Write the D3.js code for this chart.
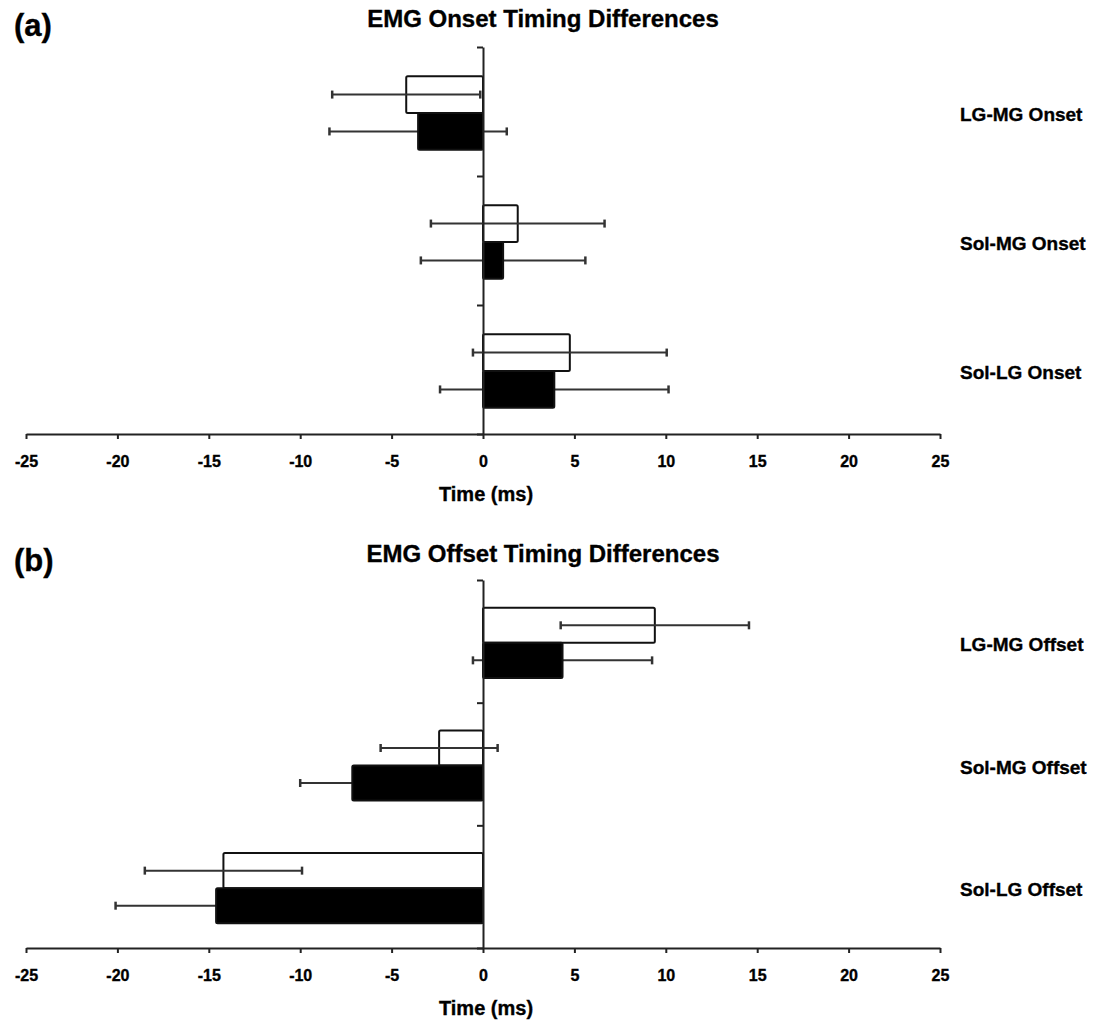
<!DOCTYPE html>
<html>
<head>
<meta charset="utf-8">
<script src="https://cdn.jsdelivr.net/npm/d3@7"></script>
<style>
  body { margin: 0; background: #fff; }
  text { font-family: "Liberation Sans", Arial, sans-serif; font-weight: bold; fill: #000; stroke: #000; stroke-width: 0.35; }
</style>
</head>
<body>
<svg></svg>
<script>
    // data (ms)
    onsetCats = ["LG-MG Onset", "Sol-MG Onset", "Sol-LG Onset"];
    onsetWhite = [-4.2, 1.9, 4.75];
    onsetWhiteSD = [4.05, 4.75, 5.3];
    onsetBlack = [-3.55, 1.1, 3.9];
    onsetBlackSD = [4.85, 4.5, 6.25];

    offsetCats = ["LG-MG Offset", "Sol-MG Offset", "Sol-LG Offset"];
    offsetWhite = [9.4, -2.4, -14.2];
    offsetWhiteSD = [5.15, 3.2, 4.3];
    offsetBlack = [4.35, -7.15, -14.6];
    offsetBlackSD = [4.9, 2.85, 5.5];

    xTicks = [-25, -20, -15, -10, -5, 0, 5, 10, 15, 20, 25];
    series = ["white", "black"];

    svg = d3.select("svg").attr("width", 1101).attr("height", 1021);

    function drawPanel(letter, title, cats, white, whiteSD, black, blackSD, top, bottom, titleY) {
        xs = d3.scaleLinear().domain([-25, 25]).range([26, 940]);
        ys = d3.scaleBand().domain(cats).range([top, bottom]);
        inner = d3.scaleBand().domain(series).range([0, ys.bandwidth()]).paddingOuter(0.75);
        yl = d3.scaleLinear().domain([0, cats.length]).range([top, bottom]);

        rows = [];
        cats.forEach(function(c, i) {
            rows.push({cat: c, s: "white", v: white[i], sd: whiteSD[i]});
            rows.push({cat: c, s: "black", v: black[i], sd: blackSD[i]});
        });

        g = svg.append("g");

        //panel letter and title
        g.append("text").attr("x", 14).attr("y", titleY + 9)
            .attr("font-size", 31).text(letter);
        g.append("text").attr("x", 543).attr("y", titleY)
            .attr("font-size", 24).attr("text-anchor", "middle").text(title);

        function bars(sel) {
            sel.attr("x", function(d) { return xs(Math.min(0, d.v)); })
                .attr("y", function(d) { return ys(d.cat) + inner(d.s) + 1.5; })
                .attr("width", function(d) { return Math.abs(xs(d.v) - xs(0)); })
                .attr("height", inner.bandwidth())
                .attr("rx", 1.5)
                .attr("fill", function(d) { return d.s == "white" ? "#fff" : "#000"; })
                .attr("stroke", "#111")
                .attr("stroke-width", 2);
        }

        //white bars first, then error bars, then black bars on top
        g.selectAll("rect.w").data(rows.filter(function(d) { return d.s == "white"; }))
            .enter().append("rect").attr("class", "w").call(bars);

        eb = g.selectAll("g.err").data(rows).enter().append("g").attr("class", "err")
            .attr("transform", function(d) {
                return "translate(0," + (ys(d.cat) + inner(d.s) + 1.5 + inner.bandwidth() / 2) + ")";
            });
        eb.append("line")
            .attr("x1", function(d) { return xs(d.v - d.sd); })
            .attr("x2", function(d) { return xs(d.v + d.sd); })
            .attr("stroke", "#333").attr("stroke-width", 2);
        eb.append("line")
            .attr("x1", function(d) { return xs(d.v - d.sd); })
            .attr("x2", function(d) { return xs(d.v - d.sd); })
            .attr("y1", -4).attr("y2", 4)
            .attr("stroke", "#333").attr("stroke-width", 2.5);
        eb.append("line")
            .attr("x1", function(d) { return xs(d.v + d.sd); })
            .attr("x2", function(d) { return xs(d.v + d.sd); })
            .attr("y1", -4).attr("y2", 4)
            .attr("stroke", "#333").attr("stroke-width", 2.5);

        g.selectAll("rect.b").data(rows.filter(function(d) { return d.s == "black"; }))
            .enter().append("rect").attr("class", "b").call(bars);

        //draw the y axis at zero
        ya = g.append("g")
            .attr("transform", "translate(" + xs(0) + ",0)")
            .call(d3.axisLeft(yl).tickValues(d3.range(cats.length + 1)).tickFormat("").tickSizeInner(6).tickSizeOuter(0));
        ya.selectAll("path, line").attr("stroke", "#222").attr("stroke-width", 2);

        //category labels on the right
        g.selectAll("text.cat").data(cats).enter().append("text").attr("class", "cat")
            .attr("x", 960)
            .attr("y", function(d) { return ys(d) + ys.bandwidth() / 2 + 3; })
            .attr("dy", "0.35em")
            .attr("font-size", 19)
            .text(function(d) { return d; });

        //draw the x axis
        xa = g.append("g")
            .attr("transform", "translate(0," + bottom + ")")
            .call(d3.axisBottom(xs).tickValues(xTicks).tickFormat(function(d) { return String(d); })
                .tickSize(5).tickSizeOuter(0).tickPadding(17));
        xa.selectAll("path, line").attr("stroke", "#222").attr("stroke-width", 2);
        xa.selectAll("text").attr("font-size", 16).attr("font-family", null).attr("fill", "#000");

        g.append("text").attr("x", xs(0) + 3).attr("y", bottom + 67)
            .attr("font-size", 20).attr("text-anchor", "middle").text("Time (ms)");
    }

    drawPanel("(a)", "EMG Onset Timing Differences", onsetCats, onsetWhite, onsetWhiteSD, onsetBlack, onsetBlackSD, 47, 434, 27);
    drawPanel("(b)", "EMG Offset Timing Differences", offsetCats, offsetWhite, offsetWhiteSD, offsetBlack, offsetBlackSD, 580, 948, 562);
</script>
</body>
</html>
